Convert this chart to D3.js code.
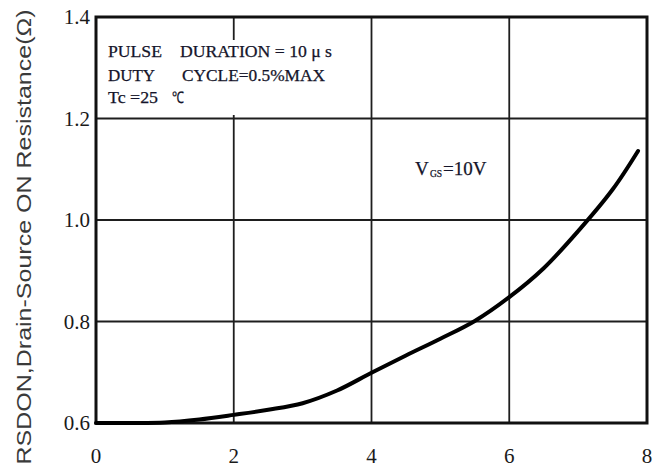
<!DOCTYPE html>
<html>
<head>
<meta charset="utf-8">
<script src="https://cdn.jsdelivr.net/npm/d3@7/dist/d3.min.js"></script>
<style>
  html, body { margin: 0; padding: 0; background: #fff; }
  svg { display: block; }
</style>
</head>
<body>
<svg id="chart" width="657" height="468"></svg>
<script>
// Drain current (A) vs. on-resistance (ohm), VGS = 10 V
const drainCurrent = [0, 0.5, 1.0, 1.5, 2.0, 2.5, 3.0, 3.5, 4.0, 4.5, 5.0, 5.5, 6.0, 6.5, 7.0, 7.5, 7.87];
const onResistance = [0.600, 0.600, 0.601, 0.607, 0.616, 0.626, 0.639, 0.664, 0.699, 0.733, 0.766, 0.801, 0.848, 0.905, 0.978, 1.060, 1.136];
const xTicks = [0, 2, 4, 6, 8];
const yTicks = [0.6, 0.8, 1.0, 1.2, 1.4];
const yTickLabels = ["0.6", "0.8", "1.0", "1.2", "1.4"];

const svg = d3.select("#chart");
const plotL = 96, plotR = 647, plotT = 17, plotB = 423;

const x = d3.scaleLinear().domain([0, 8]).range([plotL, plotR]);
const y = d3.scaleLinear().domain([0.6, 1.4]).range([plotB, plotT]);

const ink = "#1e1e1e";
const serif = "'Liberation Serif', 'Times New Roman', serif";

// grid lines
svg.append("g").selectAll("line").data(xTicks).join("line")
  .attr("x1", d => x(d)).attr("x2", d => x(d))
  .attr("y1", plotT).attr("y2", plotB)
  .attr("stroke", ink).attr("stroke-width", 1.8);
svg.append("g").selectAll("line").data(yTicks).join("line")
  .attr("x1", plotL).attr("x2", plotR)
  .attr("y1", d => y(d)).attr("y2", d => y(d))
  .attr("stroke", ink).attr("stroke-width", 1.8);

// plot frame
svg.append("rect")
  .attr("x", plotL).attr("y", plotT)
  .attr("width", plotR - plotL).attr("height", plotB - plotT)
  .attr("fill", "none").attr("stroke", "#111").attr("stroke-width", 3);

// white panel behind the test-condition notes
svg.append("rect")
  .attr("x", plotL + 2).attr("y", 40).attr("width", 248).attr("height", 75)
  .attr("fill", "#fff");

// tick labels
svg.append("g").selectAll("text").data(yTicks).join("text")
  .attr("x", plotL - 6).attr("y", d => y(d))
  .attr("text-anchor", "end").attr("dominant-baseline", "central")
  .attr("font-family", serif).attr("font-size", 21).attr("fill", "#1a1a1a")
  .text((d, i) => yTickLabels[i]);
svg.append("g").selectAll("text").data(xTicks).join("text")
  .attr("x", d => x(d)).attr("y", 463)
  .attr("text-anchor", "middle")
  .attr("font-family", serif).attr("font-size", 21).attr("fill", "#1a1a1a")
  .text(d => d);

// y axis title
svg.append("text")
  .attr("transform", "translate(31,237) rotate(-90)")
  .attr("text-anchor", "middle")
  .attr("font-family", "'Liberation Sans', Arial, sans-serif")
  .attr("font-size", 20).attr("fill", "#3a3a3a")
  .attr("textLength", 455).attr("lengthAdjust", "spacingAndGlyphs")
  .text("RSDON,Drain-Source ON Resistance(\u03A9)");

// test-condition notes
const notes = [
  { t: "PULSE", x: 108, y: 57, w: 54 },
  { t: "DURATION = 10 \u03BC s", x: 180, y: 57, w: 152 },
  { t: "DUTY", x: 108, y: 81, w: 47 },
  { t: "CYCLE=0.5%MAX", x: 182, y: 81, w: 143 },
  { t: "Tc =25", x: 108, y: 103, w: 50 },
  { t: "\u2103", x: 172, y: 103, w: 12 }
];
svg.append("g").selectAll("text").data(notes).join("text")
  .attr("x", d => d.x).attr("y", d => d.y)
  .attr("font-family", serif).attr("font-size", 16).attr("fill", "#14142a")
  .attr("stroke", "#14142a").attr("stroke-width", 0.25)
  .attr("textLength", d => d.w).attr("lengthAdjust", "spacingAndGlyphs")
  .text(d => d.t);

// series label: V with subscript GS
const lab = svg.append("text").attr("font-family", serif)
  .attr("fill", "#14142a").attr("stroke", "#14142a").attr("stroke-width", 0.25);
lab.append("tspan").attr("x", 415).attr("y", 175).attr("font-size", 19).text("V");
lab.append("tspan").attr("x", 430).attr("y", 177).attr("font-size", 9.5).text("GS");
lab.append("tspan").attr("x", 443).attr("y", 175).attr("font-size", 19).text("=10V");

// curve
const pts = drainCurrent.map((d, i) => [d, onResistance[i]]);
svg.append("path")
  .datum(pts)
  .attr("fill", "none").attr("stroke", "#000").attr("stroke-width", 4)
  .attr("stroke-linecap", "round")
  .attr("d", d3.line().x(d => x(d[0])).y(d => y(d[1])).curve(d3.curveCatmullRom.alpha(0.5)));
</script>
</body>
</html>
